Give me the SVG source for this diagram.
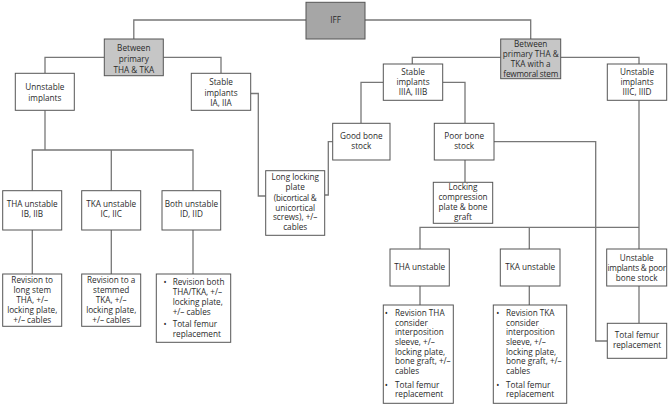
<svg xmlns="http://www.w3.org/2000/svg" width="671" height="406" viewBox="0 0 671 406">
<style>
.b{fill:#fff;stroke:#555;stroke-width:1}
.g1{fill:#a6a6a6;stroke:#555;stroke-width:1}
.g2{fill:#c6c6c6;stroke:#555;stroke-width:1}
.c{fill:none;stroke:#777;stroke-width:1.3}
text{font-family:"Open Sans","Noto Sans","Liberation Sans",sans-serif;font-size:8.2px;fill:#2a2a2a}
.m{text-anchor:middle}
.t{letter-spacing:-0.2px}
</style>
<rect width="671" height="406" fill="#fff"/>
<g id="connectors">
<path class="c" d="M306,20H133.8V39"/>
<path class="c" d="M365,20H530.7V39"/>
<path class="c" d="M104.3,57.3H45V73.3"/>
<path class="c" d="M163.3,57.3H221V73.3"/>
<path class="c" d="M45,110.3V150"/>
<path class="c" d="M32.3,190.7V150H193V190.7M111.3,150V190.7"/>
<path class="c" d="M32.3,230V274M111.3,230V274M193,230V274"/>
<path class="c" d="M250.7,93.5H258.3V196H265.7"/>
<path class="c" d="M324.7,195H328.3V141.7H332.7"/>
<path class="c" d="M500.7,57.3H412.3V64"/>
<path class="c" d="M560.7,57.3H639V64"/>
<path class="c" d="M383.3,82.3H361V123.3"/>
<path class="c" d="M442.7,82.3H465V123.3"/>
<path class="c" d="M465,160V182.3"/>
<path class="c" d="M494,141.7H595.7V341H607.3"/>
<path class="c" d="M420,249V227.3H639M529.3,227.3V249"/>
<path class="c" d="M639,100.3V249"/>
<path class="c" d="M420,286V305M529.3,286V305"/>
<path class="c" d="M639,286V323.3"/>
</g>
<g id="iff"><rect class="g1" x="306" y="2.3" width="59" height="36.7"/><text class="m" x="335.5" y="23.4">IFF</text></g>
<g id="between1"><rect class="g2" x="104.3" y="39" width="59" height="36.7"/>
<text class="m" x="133.8" y="51.1">Between</text><text class="m" x="133.8" y="62.1">primary</text><text class="m" x="133.8" y="72.8">THA &amp; TKA</text></g>
<g id="between2"><rect class="g2" x="500.7" y="39" width="60" height="39.7"/>
<text class="m" x="530.7" y="46.8">Between</text><text class="m" x="530.7" y="57.1">primary THA &amp;</text><text class="m" x="530.7" y="66.8">TKA with a</text><text class="m t" x="530.7" y="76.8">fewmoral stem</text></g>
<g id="unnstable"><rect class="b" x="15.3" y="73.3" width="59" height="37"/>
<text class="m" x="44.8" y="89.8">Unnstable</text><text class="m" x="44.8" y="100.5">implants</text></g>
<g id="stableIA"><rect class="b" x="191.3" y="73.3" width="59.4" height="37"/>
<text class="m" x="221" y="85.1">Stable</text><text class="m" x="221" y="95.5">implants</text><text class="m" x="221" y="105.8">IA, IIA</text></g>
<g id="stableIIIA"><rect class="b" x="383.3" y="64" width="59.4" height="36.3"/>
<text class="m" x="413" y="75.1">Stable</text><text class="m" x="413" y="85.1">implants</text><text class="m" x="413" y="95.1">IIIA, IIIB</text></g>
<g id="unstableIIIC"><rect class="b" x="607.3" y="64" width="59.4" height="36.3"/>
<text class="m" x="637" y="75.1">Unstable</text><text class="m" x="637" y="85.1">implants</text><text class="m" x="637" y="95.1">IIIC, IIID</text></g>
<g id="goodbone"><rect class="b" x="332.7" y="123.3" width="57.3" height="36.7"/>
<text class="m" x="361.3" y="138.8">Good bone</text><text class="m" x="361.3" y="148.8">stock</text></g>
<g id="poorbone"><rect class="b" x="434.3" y="123.3" width="59.7" height="36.7"/>
<text class="m" x="464.2" y="138.8">Poor bone</text><text class="m" x="464.2" y="148.8">stock</text></g>
<g id="longlocking"><rect class="b" x="265.7" y="170.7" width="59" height="64.6"/>
<text class="m" x="295.2" y="179.8">Long locking</text><text class="m" x="295.2" y="190">plate</text><text class="m t" x="295.2" y="200.6">(bicortical &amp;</text><text class="m" x="295.2" y="210.6">unicortical</text><text class="m" x="295.2" y="220.3">screws), +/–</text><text class="m" x="295.2" y="230.4">cables</text></g>
<g id="lockingcomp"><rect class="b" x="433.3" y="182.3" width="59.4" height="41"/>
<text class="m" x="463" y="189.5">Locking</text><text class="m" x="463" y="199.5">compression</text><text class="m" x="463" y="209.8">plate &amp; bone</text><text class="m" x="463" y="220.1">graft</text></g>
<g id="thaIB"><rect class="b" x="2.7" y="190.7" width="59" height="39.3"/>
<text class="m" x="32.2" y="206.8">THA unstable</text><text class="m" x="32.2" y="217.1">IB, IIB</text></g>
<g id="tkaIC"><rect class="b" x="81.7" y="190.7" width="59" height="39.3"/>
<text class="m" x="111.2" y="206.8">TKA unstable</text><text class="m" x="111.2" y="217.1">IC, IIC</text></g>
<g id="bothID"><rect class="b" x="162" y="190.7" width="58.7" height="39.3"/>
<text class="m" x="191.4" y="206.8">Both unstable</text><text class="m" x="191.4" y="217.1">ID, IID</text></g>
<g id="thaunstable"><rect class="b" x="390" y="249" width="59.3" height="37"/>
<text class="m" x="419.7" y="270.1">THA unstable</text></g>
<g id="tkaunstable"><rect class="b" x="500.3" y="249" width="59.7" height="37"/>
<text class="m" x="530.2" y="270.1">TKA unstable</text></g>
<g id="unstablepoor"><rect class="b" x="606.7" y="249" width="60" height="37"/>
<text class="m" x="636.7" y="260.5">Unstable</text><text class="m t" x="636.7" y="270.8">implants &amp; poor</text><text class="m" x="636.7" y="281.1">bone stock</text></g>
<g id="totalfemur"><rect class="b" x="607.3" y="323.3" width="59.4" height="35"/>
<text class="m" x="637" y="337.8">Total femur</text><text class="m" x="637" y="347.8">replacement</text></g>
<g id="revlong"><rect class="b" x="2.7" y="274" width="59" height="52.3"/>
<text class="m" x="32.2" y="282.8">Revision to</text><text class="m" x="32.2" y="292.8">long stem</text><text class="m" x="32.2" y="303.1">THA, +/–</text><text class="m" x="32.2" y="313.1">locking plate,</text><text class="m" x="32.2" y="323.1">+/– cables</text></g>
<g id="revstemmed"><rect class="b" x="81.7" y="274" width="59" height="52.3"/>
<text class="m" x="111.2" y="282.8">Revision to a</text><text class="m" x="111.2" y="292.8">stemmed</text><text class="m" x="111.2" y="303.1">TKA, +/–</text><text class="m" x="111.2" y="313.1">locking plate,</text><text class="m" x="111.2" y="323.1">+/– cables</text></g>
<g id="revboth"><rect class="b" x="156.3" y="274" width="74.4" height="68.3"/>
<text x="163.5" y="284.5">•</text><text x="172.7" y="284.5">Revision both</text><text x="172.7" y="295.1">THA/TKA, +/–</text><text x="172.7" y="305.1">locking plate,</text><text x="172.7" y="315.1">+/– cables</text>
<text x="163.5" y="327.1">•</text><text x="172.7" y="327.1">Total femur</text><text x="172.7" y="337.1">replacement</text></g>
<g id="revTHA"><rect class="b" x="383.3" y="305" width="70" height="98.3"/>
<text x="384.7" y="316.1">•</text><text x="395" y="316.1">Revision THA</text><text x="395" y="325.7">consider</text><text x="395" y="335.3">interposition</text><text x="395" y="344.9">sleeve, +/–</text><text x="395" y="354.5">locking plate,</text><text x="395" y="364.1">bone graft, +/–</text><text x="395" y="373.7">cables</text>
<text x="384.7" y="387.7">•</text><text x="395" y="387.7">Total femur</text><text x="395" y="397.3">replacement</text></g>
<g id="revTKA"><rect class="b" x="493.3" y="305" width="73.4" height="98.3"/>
<text x="496.3" y="316.1">•</text><text x="506" y="316.1">Revision TKA</text><text x="506" y="325.7">consider</text><text x="506" y="335.3">interposition</text><text x="506" y="344.9">sleeve, +/–</text><text x="506" y="354.5">locking plate,</text><text x="506" y="364.1">bone graft, +/–</text><text x="506" y="373.7">cables</text>
<text x="496.3" y="387.7">•</text><text x="506" y="387.7">Total femur</text><text x="506" y="397.3">replacement</text></g>
</svg>
